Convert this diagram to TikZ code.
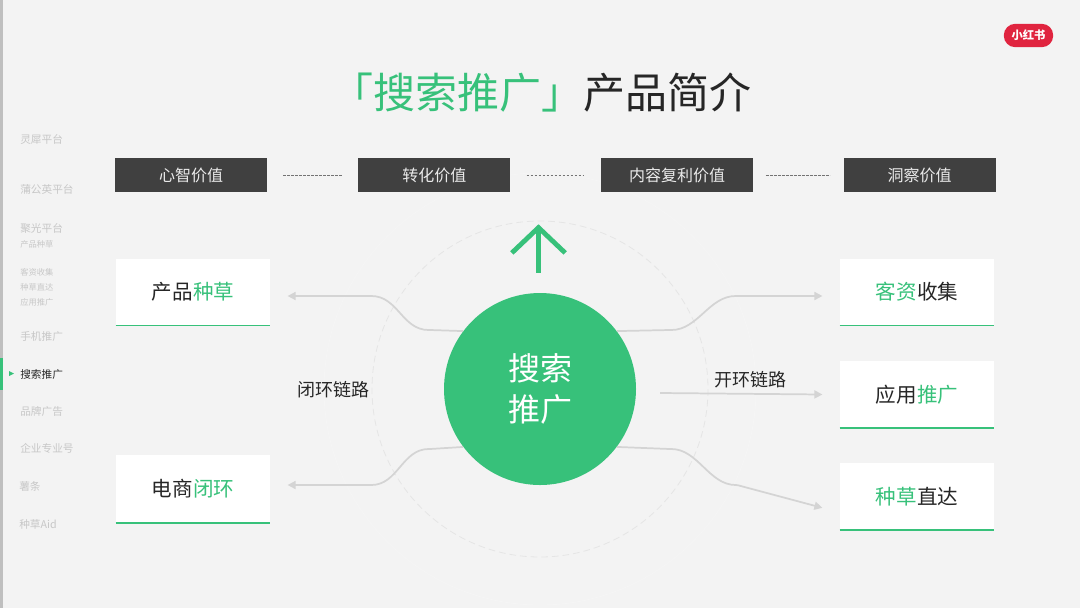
\documentclass[tikz,border=0pt]{standalone}
\usepackage{fontspec}
\usepackage{xcolor}
\setmainfont{Noto Sans CJK SC}
\usetikzlibrary{arrows.meta, positioning}
\definecolor{pagebg}{HTML}{F3F3F3}
\definecolor{xgreen}{HTML}{37C17A}
\definecolor{xdark}{HTML}{404040}
\definecolor{xred}{HTML}{E0243F}
\newcommand{\gr}[1]{\textcolor{xgreen}{#1}}

\begin{document}
\begin{tikzpicture}[x=0.75pt, y=-0.75pt,
  head/.style={rectangle, minimum width=114pt, minimum height=25.5pt,
    inner sep=0pt, fill=xdark, text=white!92!black, font=\fontsize{12}{14}\selectfont},
  card/.style={rectangle, minimum width=115.5pt, minimum height=50pt,
    inner sep=0pt, fill=white, text=black!85, font=\fontsize{15.4}{18}\selectfont},
  tag/.style={inner sep=0pt, text=black!85, font=\fontsize{13.5}{16}\selectfont},
  side/.style={inner sep=0pt, anchor=west, text=black!22, font=\fontsize{8}{10}\selectfont},
  sidesub/.style={side, font=\fontsize{6.2}{8}\selectfont},
  link/.style={draw=black!17, line width=1.3pt, rounded corners=1pt,
    -{Triangle[length=6pt,width=6pt]}},
  dashline/.style={draw=black!55, dashed, dash pattern=on 2pt off 1pt, line width=0.4pt},
  ring/.style={draw=black!10, dashed, dash pattern=on 5pt off 3pt, line width=0.6pt}]

\useasboundingbox (0,0) rectangle (1080,608);
\fill [pagebg] (0,0) rectangle (1080,608);
\fill [black!25] (0,0) rectangle (3,608);
\fill [xgreen] (0,358) rectangle (3,390);

% rings
\draw [draw=black!4, line width=0.6pt] (540,389) circle (216);
\draw [ring] (540,389) circle (168);

% title
\node (title) at (541,93) [inner sep=0pt, font=\fontsize{31.5}{36}\selectfont, text=black!85]
  {\gr{「搜索推广」}产品简介};

% logo
\node (logo) at (1028.5,35.5) [rectangle, rounded corners=8.5pt, fill=xred, text=white,
  minimum width=37pt, minimum height=17.5pt, inner sep=0pt,
  font=\fontsize{8.5}{10}\selectfont\bfseries] {小红书};

% top row
\node (mind) at (191,175) [head] {心智价值};
\node (conv) [head, right=68.2pt of mind] {转化价值};
\node (cont) [head, right=67.5pt of conv] {内容复利价值};
\node (insi) [head, right=67.5pt of cont] {洞察价值};

\draw [dashline, shorten <=12pt, shorten >=12.5pt] (mind) -- (conv);
\draw [dashline, shorten <=12pt, shorten >=12.5pt] (conv) -- (cont);
\draw [dashline, shorten <=9.5pt, shorten >=10pt] (cont) -- (insi);

% cards
\node (seed) at (193,292) [card] {产品\gr{种草}};
\node (shop) at (193,489) [card, minimum height=51pt] {电商\gr{闭环}};
\node (lead) at (917,292) [card] {\gr{客资}收集};
\node (apps) at (917,394.5) [card] {应用\gr{推广}};
\node (goto) at (917,496.5) [card] {\gr{种草}直达};

\foreach \c in {seed,shop,lead,apps,goto}
  \draw [xgreen, line width=1.2pt] (\c.south west) -- (\c.south east);

% centre
\node (core) at (540,389) [circle, minimum size=144pt, inner sep=0pt, fill=xgreen,
  text=white, align=center, font=\fontsize{24}{31}\selectfont] {搜索\\推广};

% up arrow
\node (upbase) at (538.5,273) [inner sep=0pt, minimum size=0pt] {};
\node (uptip) at (538.5,224) [inner sep=0pt, minimum size=0pt] {};
\draw [xgreen, line width=3.6pt, -{Straight Barb[length=19pt,width=40pt,line width=3.6pt]}]
  (upbase) -- (uptip);

% links
\draw [link] (core.143) -- (430,330) .. controls (402,330) and (398,296) .. (370,296)
  -- ([xshift=13pt,yshift=-3pt]seed.east);
\draw [link] (core.217) -- (430,449) .. controls (402,449) and (398,485) .. (370,485)
  -- ([xshift=13pt,yshift=3pt]shop.east);
\draw [link] (core.37) -- (670,330) .. controls (698,330) and (709,296) .. (737,296)
  -- ([xshift=-13pt,yshift=-3pt]lead.west);
\draw [link] (660,393) -- ([xshift=-13pt]apps.west);
\draw [link] (core.323) -- (670,449) .. controls (698,449) and (709,485) .. (737,485)
  -- ([xshift=-13pt,yshift=-8.5pt]goto.west);

\node (closed) at (333,390) [tag] {闭环链路};
\node (opened) at (750,380) [tag] {开环链路};

% side menu
\node (s1) at (20,139) [side] {灵犀平台};
\node (s2) at (20,189) [side] {蒲公英平台};
\node (s3) at (20,228) [side] {聚光平台};
\node (s4) at (20,244) [sidesub] {产品种草};
\node (s5) at (20,272) [sidesub] {客资收集};
\node (s6) at (20,287) [sidesub] {种草直达};
\node (s7) at (20,302) [sidesub] {应用推广};
\node (s8) at (20,336) [side] {手机推广};
\node (s9) at (20,374) [side, text=black!85] {搜索推广};
\node (s10) at (20,411) [side] {品牌广告};
\node (s11) at (20,448) [side] {企业专业号};
\node (s12) at (19,486) [side] {薯条};
\node (s13) at (19,524) [side] {种草Aid};
\fill [xgreen] (9,371) -- (14,373.5) -- (9,376) -- cycle;

\end{tikzpicture}
\end{document}
